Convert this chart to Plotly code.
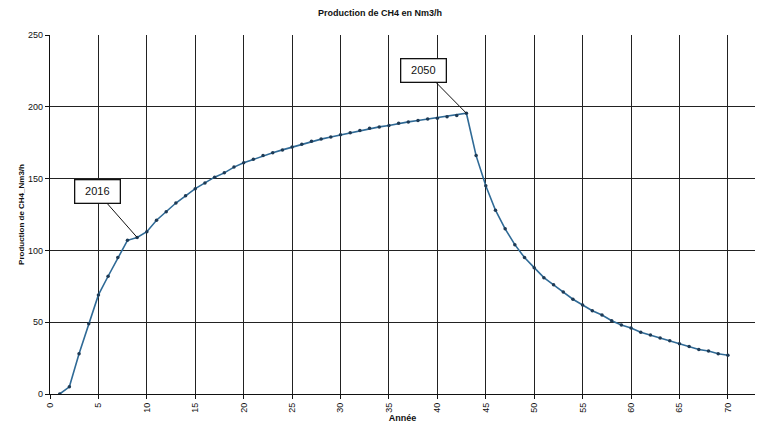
import plotly.graph_objects as go

years = list(range(1, 71))
production = [
    0, 5, 28, 49, 69, 82, 95, 107, 109, 113,
    121, 127, 133, 138, 143, 147, 151, 154, 158, 161,
    163.5, 166, 168, 170, 172, 174, 176, 177.5, 179, 180.5,
    182, 183.5, 185, 186, 187, 188.5, 189.5, 190.5, 191.5, 192,
    193, 194, 195.5, 166, 145, 128, 115, 104, 95, 88,
    81, 76, 71, 66, 62, 58, 55, 51, 48, 46,
    43, 41, 39, 37, 35, 33, 31, 30, 28, 27,
]
x_ticks = list(range(0, 75, 5))
y_ticks = [0, 50, 100, 150, 200, 250]

labels = ["2016", "2050"]
label_years = [9, 43]
label_pos = [(4.86, 140.7), (38.6, 225.6)]

font = "Liberation Sans, Arial, sans-serif"

fig = go.Figure()
fig.add_trace(go.Scatter(
    x=years, y=production, mode="lines+markers",
    line=dict(color="#2f6a96", width=1.6),
    marker=dict(color="#1d3a55", size=3.5),
    showlegend=False,
))

for text, yr, (ax, ay) in zip(labels, label_years, label_pos):
    fig.add_annotation(
        x=yr, y=production[yr - 1], ax=ax, ay=ay, axref="x", ayref="y",
        text=text, showarrow=True, arrowhead=0, arrowwidth=1, arrowcolor="#111",
        font=dict(family=font, size=11, color="#111"),
        bgcolor="white", bordercolor="#111", borderwidth=1.3, borderpad=5,
        width=34,
    )

axis_common = dict(
    showgrid=True, gridcolor="#222", gridwidth=1.1,
    showline=True, linecolor="#111", linewidth=1.2,
    ticks="outside", ticklen=4, tickcolor="#111",
    zeroline=False, automargin=False,
    tickfont=dict(family=font, size=9, color="#111"),
)

fig.update_layout(
    width=760, height=426, autosize=False,
    paper_bgcolor="white", plot_bgcolor="white",
    margin=dict(l=50, r=5, t=35, b=32),
    title=dict(text="<b>Production de CH4 en Nm3/h</b>", x=0.5, xanchor="center",
               y=0.97, yanchor="middle", automargin=False,
               font=dict(family=font, size=9, color="#111")),
    xaxis=dict(range=[0, 72.8], tickvals=x_ticks, tickangle=-90,
               title=dict(text="<b>Année</b>", standoff=0, font=dict(family=font, size=9, color="#111")),
               **axis_common),
    yaxis=dict(range=[0, 250], tickvals=y_ticks,
               title=dict(text="<b>Production de CH4_Nm3/h</b>", standoff=2, font=dict(family=font, size=8, color="#111")),
               **axis_common),
)

fig.write_html(
    "out.html",
    config={"responsive": False, "displayModeBar": False},
    default_width="760px", default_height="426px",
    post_script="document.body.style.margin='0';document.body.style.overflow='hidden';",
)
